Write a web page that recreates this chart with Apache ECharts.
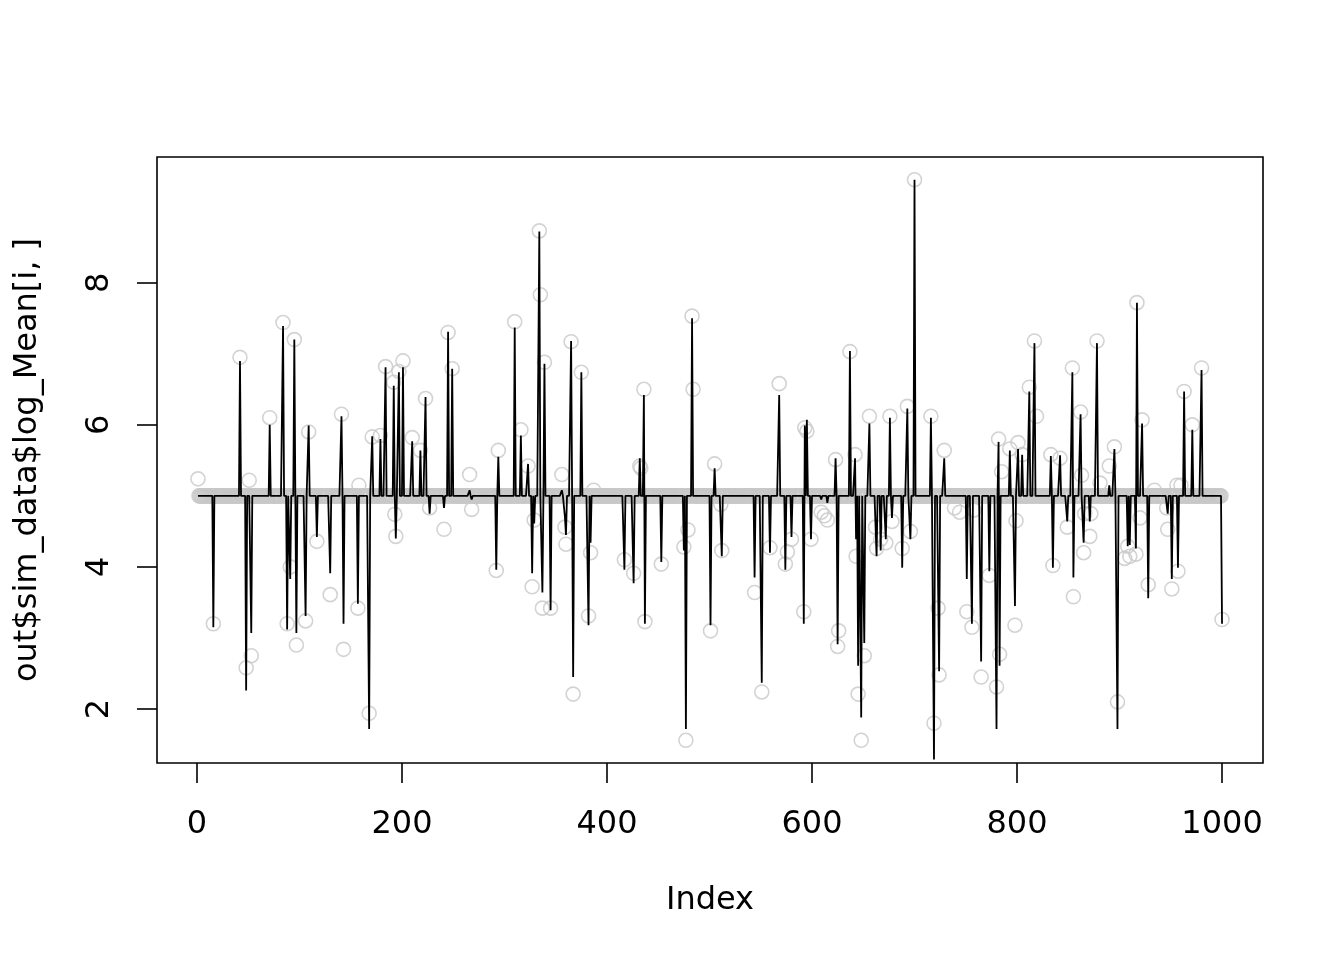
<!DOCTYPE html>
<html>
<head>
<meta charset="utf-8">
<script src="https://cdn.jsdelivr.net/npm/echarts@6/dist/echarts.min.js"></script>
<style>
html,body{margin:0;padding:0;background:#fff;}
#chart{width:1344px;height:960px;}
</style>
</head>
<body>
<div id="chart"></div>
<script>
// Index count and baseline level
const N = 1000;
const baseObs = 5.0;   // circles sitting on the grey band
const baseFit = 5.0;   // black line level between spikes

// Indices that depart from the baseline
const spikeIdx = [
  1,16,42,48,51,53,71,84,88,91,95,97,106,109,117,130,141,143,157,158,
  168,171,179,184,192,193,194,197,201,210,218,223,227,241,245,249,266,268,292,294,
  310,316,323,327,329,334,335,337,339,345,356,359,360,365,367,375,382,384,387,417,
  426,432,433,436,437,453,475,477,479,483,484,501,505,511,512,544,551,559,568,574,
  576,580,592,593,595,599,609,612,615,623,625,626,637,642,643,645,648,651,656,662,
  663,667,672,676,678,688,693,696,700,716,719,723,724,729,739,744,751,756,758,765,
  773,780,782,783,785,793,798,799,801,805,812,817,819,833,835,842,849,854,855,862,
  863,865,866,871,872,878,881,890,895,898,905,908,910,916,917,920,922,928,934,946,
  947,951,956,957,960,963,971,980,1000
];
// Observed values (grey circles) at those indices
const obsVals = [
  5.24,3.20,6.95,2.58,5.22,2.75,6.10,7.44,3.20,4.00,7.20,2.90,3.24,5.90,4.36,3.61,6.15,2.84,3.42,5.15,
  1.94,5.83,5.85,6.82,6.60,4.74,4.43,6.75,6.90,5.82,5.64,6.37,4.83,4.53,7.30,6.79,5.30,4.81,3.95,5.64,
  7.45,5.93,5.42,3.72,4.66,8.73,7.83,3.42,6.88,3.42,5.30,4.56,4.32,7.17,2.21,6.74,3.31,4.20,5.08,4.10,
  3.91,5.42,5.39,6.50,3.23,4.04,4.28,1.56,4.52,7.53,6.50,3.10,5.45,4.88,4.23,3.64,2.24,4.27,6.58,4.04,
  4.21,4.39,3.37,5.96,5.91,4.39,4.77,4.72,4.66,5.51,2.88,3.10,7.03,5.58,4.15,2.21,1.56,2.75,6.12,4.56,
  4.26,4.39,4.34,6.12,4.64,4.26,6.26,4.50,9.45,6.12,1.80,3.42,2.48,5.64,4.83,4.77,3.37,3.15,4.80,2.45,
  3.88,2.31,5.80,2.77,5.34,5.66,3.18,4.65,5.75,5.58,6.53,7.18,6.12,5.58,4.02,5.53,4.56,6.80,3.58,6.18,
  5.29,4.20,4.75,4.43,4.75,7.18,5.18,5.42,5.69,2.10,4.12,4.29,4.15,4.18,7.72,4.69,6.07,3.75,5.08,4.83,
  4.53,3.69,5.15,3.94,5.15,6.47,6.00,6.80,3.26
];
// Fitted values (black line) at those indices
const fitVals = [
  5.00,3.15,6.90,2.26,5.00,3.07,6.00,7.39,3.12,3.83,7.20,3.07,3.31,5.99,4.42,3.91,6.12,3.20,3.48,5.00,
  1.72,5.84,5.80,6.81,6.55,5.00,4.40,6.74,6.81,5.77,5.64,6.39,4.75,4.83,7.31,6.79,5.08,4.95,3.96,5.55,
  7.37,5.85,5.45,3.91,4.61,8.72,5.00,3.64,6.86,3.39,5.08,4.70,4.45,7.18,2.45,6.74,3.18,4.34,5.00,3.96,
  3.77,5.53,5.00,6.42,3.20,4.07,4.23,1.72,5.00,7.50,5.00,3.18,5.39,5.00,4.15,3.85,2.37,4.20,6.42,3.96,
  5.00,4.42,3.20,5.99,6.07,4.39,4.95,5.00,4.90,5.53,2.91,5.00,7.04,5.53,4.39,2.61,1.88,2.93,6.02,5.00,
  4.15,4.23,4.39,6.10,4.69,3.99,6.23,4.39,9.45,6.10,1.29,5.00,2.53,5.53,5.00,5.00,3.83,3.20,5.00,2.67,
  3.94,1.72,5.76,2.61,5.00,5.64,3.45,5.00,5.66,5.58,6.47,7.15,5.00,5.56,3.99,5.57,4.64,6.74,3.85,6.15,
  5.00,4.34,5.00,4.64,5.00,7.15,5.00,5.15,5.66,1.72,5.00,4.29,4.31,4.26,7.72,5.00,6.02,3.56,5.00,5.00,
  4.75,3.83,5.00,3.99,5.00,6.47,5.93,6.77,3.20
];

const xTicks = [0, 200, 400, 600, 800, 1000];
const yTicks = [2, 4, 6, 8];

// Build full series from the read values
const obsMap = {}, fitMap = {};
spikeIdx.forEach((k, j) => { obsMap[k] = obsVals[j]; fitMap[k] = fitVals[j]; });
const obsData = [], fitData = [];
for (let i = 1; i <= N; i++) {
  obsData.push([i, obsMap[i] !== undefined ? obsMap[i] : baseObs]);
  fitData.push([i, fitMap[i] !== undefined ? fitMap[i] : baseFit]);
}

const FONT = 'DejaVu Sans';
const FS = 32;
const chart = echarts.init(document.getElementById('chart'), null, {renderer: 'canvas'});
chart.setOption({
  animation: false,
  backgroundColor: '#fff',
  grid: {
    left: 157, right: 81, top: 157, bottom: 197,
    show: true, borderColor: '#000', borderWidth: 1.6, backgroundColor: 'transparent'
  },
  xAxis: {
    type: 'value',
    min: -38.96, max: 1039.96,
    axisLine: {show: false, onZero: false},
    splitLine: {show: false},
    axisTick: {show: true, inside: false, length: 20, customValues: xTicks,
      lineStyle: {color: '#000', width: 1.6}},
    axisLabel: {show: true, customValues: xTicks, fontSize: FS, fontFamily: FONT,
      color: '#000', margin: 46, formatter: v => String(v)},
    name: 'Index', nameLocation: 'middle', nameGap: 122,
    nameTextStyle: {fontSize: FS, fontFamily: FONT, color: '#000'}
  },
  yAxis: {
    type: 'value',
    min: 1.24, max: 9.77,
    axisLine: {show: false, onZero: false},
    splitLine: {show: false},
    axisTick: {show: true, inside: false, length: 20, customValues: yTicks,
      lineStyle: {color: '#000', width: 1.6}},
    axisLabel: {show: true, customValues: yTicks, rotate: 90, fontSize: FS, fontFamily: FONT,
      color: '#000', margin: 41, formatter: v => String(v)},
    name: 'out$sim_data$log_Mean[i, ]', nameLocation: 'middle', nameGap: 113, nameRotate: 90,
    nameTextStyle: {fontSize: FS, fontFamily: FONT, color: '#000'}
  },
  series: [
    {
      type: 'scatter',
      data: obsData,
      symbol: 'circle',
      symbolSize: 14,
      silent: true,
      z: 2,
      itemStyle: {color: 'rgba(0,0,0,0)', borderColor: '#c8c8c8', borderWidth: 1.6},
      emphasis: {disabled: true}
    },
    {
      type: 'line',
      data: fitData,
      showSymbol: false,
      symbol: 'none',
      silent: true,
      z: 3,
      lineStyle: {color: '#000', width: 1.8},
      emphasis: {disabled: true}
    }
  ]
});
</script>
</body>
</html>
